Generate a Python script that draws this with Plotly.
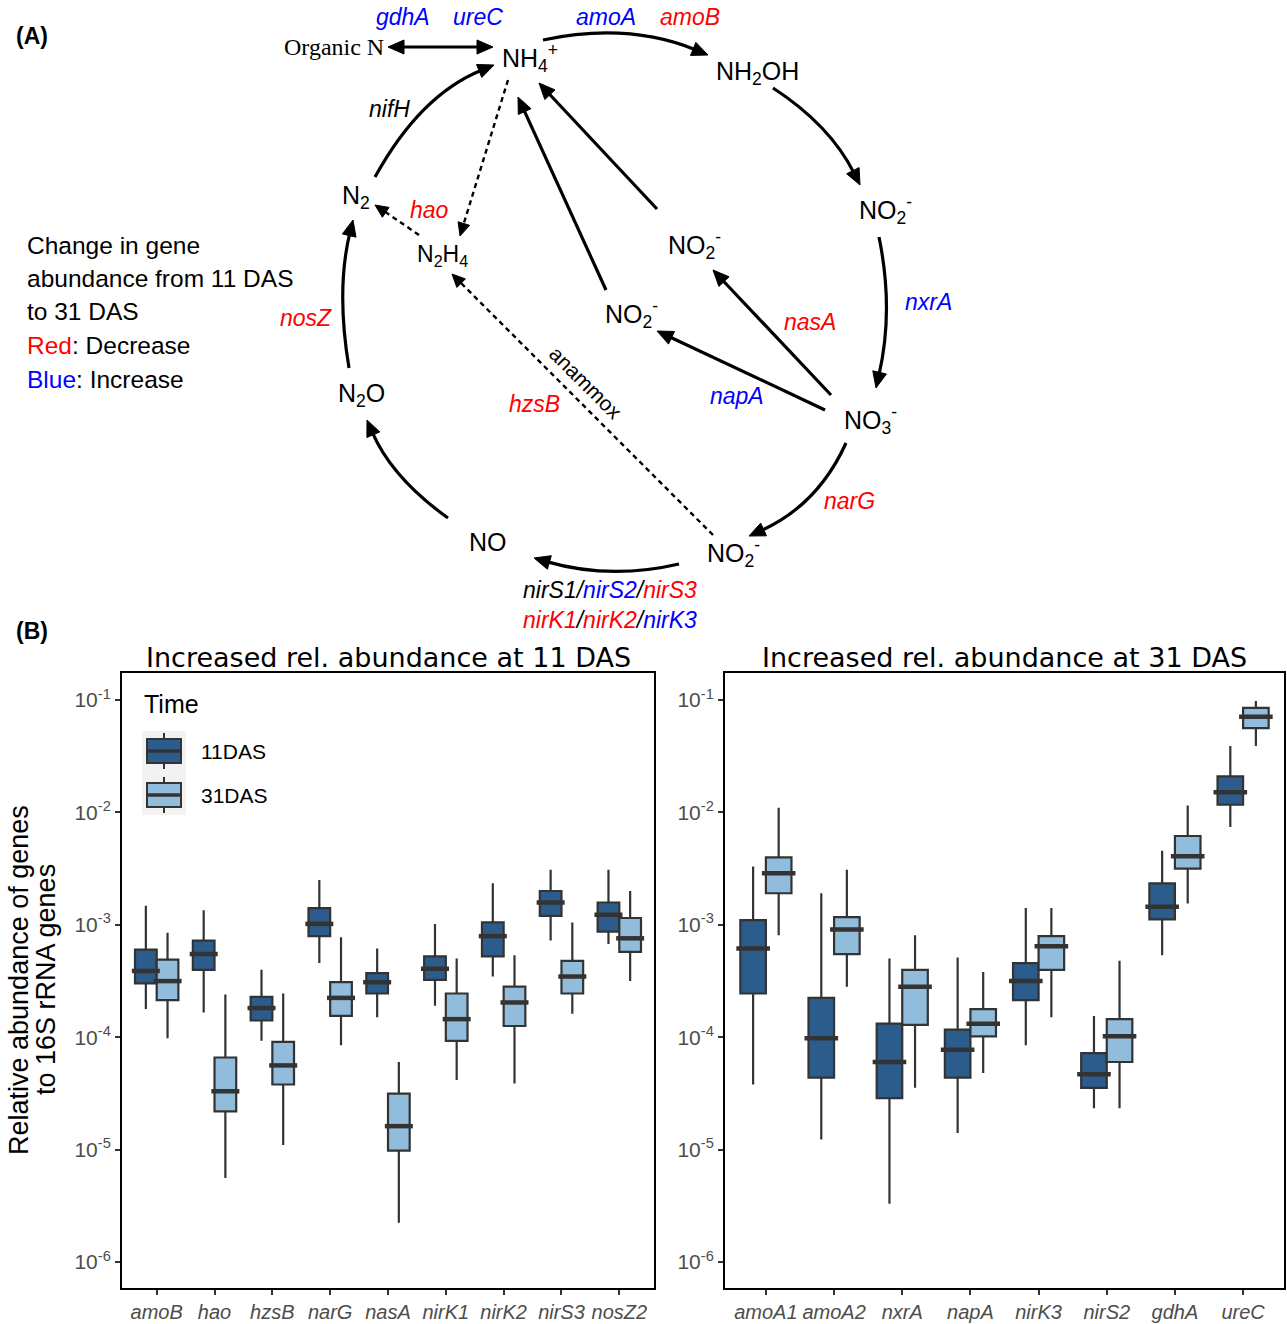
import math
import plotly.graph_objects as go

W, H = 1287, 1324

# ---------------- Panel B data (relative abundance) ----------------
genes_left = ["amoB", "hao", "hzsB", "narG", "nasA", "nirK1", "nirK2", "nirS3", "nosZ2"]
left_11_low = [1.78e-4, 1.66e-4, 9.3e-5, 4.57e-4, 1.51e-4, 1.91e-4, 3.47e-4, 7.24e-4, 6.76e-4]
left_11_q1 = [3.02e-4, 3.98e-4, 1.41e-4, 7.94e-4, 2.45e-4, 3.24e-4, 5.25e-4, 1.20e-3, 8.71e-4]
left_11_med = [3.89e-4, 5.50e-4, 1.82e-4, 1.02e-3, 3.09e-4, 4.07e-4, 7.94e-4, 1.58e-3, 1.23e-3]
left_11_q3 = [6.03e-4, 7.24e-4, 2.29e-4, 1.41e-3, 3.72e-4, 5.25e-4, 1.05e-3, 2.00e-3, 1.58e-3]
left_11_up = [1.48e-3, 1.35e-3, 3.98e-4, 2.51e-3, 6.17e-4, 1.02e-3, 2.34e-3, 3.09e-3, 3.09e-3]

left_31_low = [9.8e-5, 5.6e-6, 1.10e-5, 8.5e-5, 2.24e-6, 4.17e-5, 3.89e-5, 1.62e-4, 3.16e-4]
left_31_q1 = [2.14e-4, 2.19e-5, 3.80e-5, 1.55e-4, 9.8e-6, 9.3e-5, 1.26e-4, 2.45e-4, 5.75e-4]
left_31_med = [3.16e-4, 3.31e-5, 5.62e-5, 2.24e-4, 1.62e-5, 1.45e-4, 2.04e-4, 3.47e-4, 7.59e-4]
left_31_q3 = [4.90e-4, 6.61e-5, 9.12e-5, 3.09e-4, 3.16e-5, 2.45e-4, 2.82e-4, 4.79e-4, 1.15e-3]
left_31_up = [8.51e-4, 2.40e-4, 2.45e-4, 7.76e-4, 6.03e-5, 5.01e-4, 5.37e-4, 1.05e-3, 2.00e-3]

genes_right = ["amoA1", "amoA2", "nxrA", "napA", "nirK3", "nirS2", "gdhA", "ureC"]
right_11_low = [3.8e-5, 1.23e-5, 3.3e-6, 1.41e-5, 8.5e-5, 2.34e-5, 5.37e-4, 7.4e-3]
right_11_q1 = [2.45e-4, 4.37e-5, 2.88e-5, 4.37e-5, 2.14e-4, 3.55e-5, 1.12e-3, 1.17e-2]
right_11_med = [6.17e-4, 9.8e-5, 6.03e-5, 7.76e-5, 3.16e-4, 4.68e-5, 1.45e-3, 1.51e-2]
right_11_q3 = [1.10e-3, 2.24e-4, 1.32e-4, 1.17e-4, 4.57e-4, 7.24e-5, 2.34e-3, 2.09e-2]
right_11_up = [3.31e-3, 1.91e-3, 5.01e-4, 5.13e-4, 1.41e-3, 1.55e-4, 4.57e-3, 3.89e-2]

right_31_low = [8.1e-4, 2.82e-4, 3.55e-5, 4.8e-5, 1.51e-4, 2.34e-5, 1.55e-3, 3.89e-2]
right_31_q1 = [1.91e-3, 5.50e-4, 1.29e-4, 1.02e-4, 3.98e-4, 6.03e-5, 3.16e-3, 5.62e-2]
right_31_med = [2.88e-3, 9.1e-4, 2.82e-4, 1.32e-4, 6.46e-4, 1.02e-4, 4.07e-3, 7.08e-2]
right_31_q3 = [3.98e-3, 1.17e-3, 3.98e-4, 1.78e-4, 7.94e-4, 1.45e-4, 6.17e-3, 8.51e-2]
right_31_up = [1.10e-2, 3.09e-3, 8.1e-4, 3.80e-4, 1.41e-3, 4.79e-4, 1.15e-2, 9.8e-2]

time_labels = ["11DAS", "31DAS"]
tick_vals = [1e-1, 1e-2, 1e-3, 1e-4, 1e-5, 1e-6]
tick_text = ["10<sup>-1</sup>", "10<sup>-2</sup>", "10<sup>-3</sup>",
             "10<sup>-4</sup>", "10<sup>-5</sup>", "10<sup>-6</sup>"]

# ---------------- styles ----------------
DARK = "#2C5C8C"
LIGHT = "#92BCDB"
OUTLINE = "#333333"
RED = "#FF0000"
BLUE = "#0000FF"
SANS = "Liberation Sans, Arial, sans-serif"
TITLE_FONT = "DejaVu Sans, sans-serif"
BOX_W = 0.375

fig = go.Figure()


def add_group(genes, low, q1, med, q3, up, color, name, xa, ya, offset, msize):
    xs = [i + offset for i in range(len(genes))]
    fig.add_trace(go.Box(
        x=xs, lowerfence=low, q1=q1, median=med, q3=q3, upperfence=up,
        width=BOX_W, fillcolor=color, line=dict(color=OUTLINE, width=2.2),
        whiskerwidth=0, name=name, xaxis=xa, yaxis=ya, showlegend=False,
        hoverinfo="skip"))
    fig.add_trace(go.Scatter(
        x=xs, y=med, mode="markers", xaxis=xa, yaxis=ya, showlegend=False,
        hoverinfo="skip",
        marker=dict(symbol="line-ew", size=msize, color=OUTLINE,
                    line=dict(color=OUTLINE, width=4.5))))


add_group(genes_left, left_11_low, left_11_q1, left_11_med, left_11_q3, left_11_up,
          DARK, time_labels[0], "x", "y", -BOX_W / 2, 20)
add_group(genes_left, left_31_low, left_31_q1, left_31_med, left_31_q3, left_31_up,
          LIGHT, time_labels[1], "x", "y", BOX_W / 2, 20)
add_group(genes_right, right_11_low, right_11_q1, right_11_med, right_11_q3, right_11_up,
          DARK, time_labels[0], "x2", "y2", -BOX_W / 2, 24)
add_group(genes_right, right_31_low, right_31_q1, right_31_med, right_31_q3, right_31_up,
          LIGHT, time_labels[1], "x2", "y2", BOX_W / 2, 24)

# invisible trace for the full-figure drawing layer
fig.add_trace(go.Scatter(x=[0], y=[0], mode="markers", marker=dict(opacity=0),
                         xaxis="x3", yaxis="y3", showlegend=False, hoverinfo="skip"))

# panel geometry (pixels)
L_X0, L_X1, R_X0, R_X1 = 122, 654, 725, 1284
P_Y0, P_Y1 = 673, 1288
YRANGE = [-6.23, -0.76]


def xdom(a, b):
    return [a / W, b / W]


ydom = [1 - P_Y1 / H, 1 - P_Y0 / H]

axis_common = dict(showline=True, mirror=True, linecolor="black", linewidth=2,
                   showgrid=False, zeroline=False, ticks="outside", ticklen=5,
                   tickwidth=1.5, tickcolor=OUTLINE)

fig.update_layout(
    width=W, height=H, margin=dict(l=0, r=0, t=0, b=0),
    paper_bgcolor="white", plot_bgcolor="rgba(0,0,0,0)", showlegend=False,
    xaxis=dict(domain=xdom(L_X0, L_X1), anchor="y", range=[-0.6, len(genes_left) - 0.4],
               tickvals=list(range(len(genes_left))),
               ticktext=["<i>%s</i>" % g for g in genes_left],
               tickfont=dict(family=SANS, size=20, color="#4D4D4D"), **axis_common),
    yaxis=dict(domain=ydom, anchor="x", type="log", range=YRANGE,
               tickvals=tick_vals, ticktext=tick_text,
               tickfont=dict(family=SANS, size=21, color="#4D4D4D"), **axis_common),
    xaxis2=dict(domain=xdom(R_X0, R_X1), anchor="y2", range=[-0.6, len(genes_right) - 0.4],
                tickvals=list(range(len(genes_right))),
                ticktext=["<i>%s</i>" % g for g in genes_right],
                tickfont=dict(family=SANS, size=20, color="#4D4D4D"), **axis_common),
    yaxis2=dict(domain=ydom, anchor="x2", type="log", range=YRANGE,
                tickvals=tick_vals, ticktext=tick_text,
                tickfont=dict(family=SANS, size=21, color="#4D4D4D"), **axis_common),
    xaxis3=dict(domain=[0, 1], range=[0, W], visible=False, anchor="y3", fixedrange=True),
    yaxis3=dict(domain=[0, 1], range=[H, 0], visible=False, anchor="x3", fixedrange=True),
)

shapes = []
annotations = []


def text(t, x, y, size=22, color="black", family=SANS, xanchor="center", angle=0):
    annotations.append(dict(text=t, x=x, y=y, xref="x3", yref="y3", showarrow=False,
                            xanchor=xanchor, yanchor="middle", textangle=angle,
                            font=dict(family=family, size=size, color=color)))


def head(tip, frm, L=16, Wd=14):
    dx, dy = tip[0] - frm[0], tip[1] - frm[1]
    n = math.hypot(dx, dy)
    ux, uy = dx / n, dy / n
    bx, by = tip[0] - L * ux, tip[1] - L * uy
    px, py = -uy, ux
    p = "M%.1f,%.1f L%.1f,%.1f L%.1f,%.1f Z" % (
        tip[0], tip[1], bx + Wd / 2 * px, by + Wd / 2 * py, bx - Wd / 2 * px, by - Wd / 2 * py)
    shapes.append(dict(type="path", path=p, xref="x3", yref="y3",
                       fillcolor="black", line=dict(color="black", width=1)))
    return (bx + 3 * ux, by + 3 * uy)


def curve(start, ctrl, tip, width=3.2):
    end = head(tip, ctrl)
    p = "M%.1f,%.1f Q%.1f,%.1f %.1f,%.1f" % (start[0], start[1], ctrl[0], ctrl[1], end[0], end[1])
    shapes.append(dict(type="path", path=p, xref="x3", yref="y3",
                       line=dict(color="black", width=width)))


def straight(start, tip, dash=None, width=3.2, both=False, L=16, Wd=14):
    end = head(tip, start, L, Wd)
    s = head(start, tip, L, Wd) if both else start
    p = "M%.1f,%.1f L%.1f,%.1f" % (s[0], s[1], end[0], end[1])
    ln = dict(color="black", width=width)
    if dash:
        ln["dash"] = dash
    shapes.append(dict(type="path", path=p, xref="x3", yref="y3", line=ln))


# ---------------- Panel A: arrows ----------------
straight((388, 47), (493, 47), both=True)                 # Organic N <-> NH4+
curve((543, 40), (628, 22), (708, 55))                      # NH4+ -> NH2OH
curve((773, 88), (830, 125), (860, 185))                    # NH2OH -> NO2-
curve((879, 237), (894, 310), (876, 388))                   # NO2- -> NO3-
curve((846, 443), (818, 505), (749, 536))                   # NO3- -> NO2-
curve((679, 564), (610, 580), (534, 558))                   # NO2- -> NO
curve((448, 518), (392, 478), (367, 420))                   # NO -> N2O
curve((349, 368), (336, 290), (353, 220))                   # N2O -> N2
curve((375, 177), (420, 95), (494, 65))                     # N2 -> NH4+
straight((831, 395), (713, 270))                            # NO3- -> NO2- (nasA)
straight((825, 410), (657, 331))                            # NO3- -> NO2- (napA)
straight((657, 209), (539, 83))                             # NO2- -> NH4+
straight((606, 290), (518, 97))                             # NO2- -> NH4+
straight((508, 80), (460, 236), dash="5px,4px", width=2.4, L=13, Wd=12)   # NH4+ -> N2H4
straight((419, 235), (375, 205), dash="5px,4px", width=2.4, L=13, Wd=12)  # N2H4 -> N2
straight((713, 535), (452, 274), dash="5px,4px", width=2.4, L=13, Wd=12)  # NO2- -> N2H4 (anammox)

# ---------------- Panel A: labels ----------------
NODE = 25
text("<b>(A)</b>", 14, 36, size=23, xanchor="left")
text("<b>(B)</b>", 14, 631, size=23, xanchor="left")
text("Organic N", 334, 47, size=24, family="Liberation Serif, Times New Roman, serif")
text("NH<sub>4</sub><sup>+</sup>", 530, 58, size=NODE)
text("NH<sub>2</sub>OH", 757, 73, size=NODE)
text("NO<sub>2</sub><sup>-</sup>", 885, 210, size=NODE)
text("NO<sub>2</sub><sup>-</sup>", 694, 245, size=NODE)
text("NO<sub>2</sub><sup>-</sup>", 631, 314, size=NODE)
text("NO<sub>3</sub><sup>-</sup>", 870, 420, size=NODE)
text("NO<sub>2</sub><sup>-</sup>", 733, 553, size=NODE)
text("NO", 488, 542, size=NODE)
text("N<sub>2</sub>O", 361, 395, size=NODE)
text("N<sub>2</sub>", 356, 197, size=NODE)
text("N<sub>2</sub>H<sub>4</sub>", 442, 255, size=23)

gi = lambda g: "<i>%s</i>" % g
text(gi("gdhA"), 403, 17, size=23, color=BLUE)
text(gi("ureC"), 478, 17, size=23, color=BLUE)
text(gi("amoA"), 606, 17, size=23, color=BLUE)
text(gi("amoB"), 690, 17, size=23, color=RED)
text(gi("nifH"), 389, 109, size=23)
text(gi("hao"), 429, 210, size=23, color=RED)
text(gi("nosZ"), 306, 318, size=23, color=RED)
text(gi("hzsB"), 534, 404, size=23, color=RED)
text("anammox", 586, 382, size=21, angle=45)
text(gi("napA"), 737, 396, size=23, color=BLUE)
text(gi("nasA"), 810, 322, size=23, color=RED)
text(gi("nxrA"), 928, 302, size=23, color=BLUE)
text(gi("narG"), 849, 501, size=23, color=RED)
text("<i>nirS1/<span style='color:%s'>nirS2</span>/<span style='color:%s'>nirS3</span></i>"
     % (BLUE, RED), 610, 590, size=23)
text("<i><span style='color:%s'>nirK1</span>/<span style='color:%s'>nirK2</span>/"
     "<span style='color:%s'>nirK3</span></i>" % (RED, RED, BLUE), 610, 620, size=23)

text("Change in gene", 25, 245, size=24.5, xanchor="left")
text("abundance from 11 DAS", 25, 278, size=24.5, xanchor="left")
text("to 31 DAS", 25, 311, size=24.5, xanchor="left")
text("<span style='color:%s'>Red</span>: Decrease" % RED, 25, 345, size=24.5, xanchor="left")
text("<span style='color:%s'>Blue</span>: Increase" % BLUE, 25, 379, size=24.5, xanchor="left")

# ---------------- Panel B: titles, axis title, legend ----------------
text("Increased rel. abundance at 11 DAS", (L_X0 + L_X1) / 2, 657, size=27, family=TITLE_FONT)
text("Increased rel. abundance at 31 DAS", (R_X0 + R_X1) / 2, 657, size=27, family=TITLE_FONT)
text("Relative abundance of genes", 19, 980, size=27, angle=-90)
text("to 16S rRNA genes", 46, 980, size=27, angle=-90)

# legend (ggplot style keys)
text("Time", 142, 704, size=25, xanchor="left")
shapes.append(dict(type="rect", x0=142, x1=186, y0=731, y1=815, xref="x3", yref="y3",
                   fillcolor="#F2F2F2", line=dict(width=0), layer="below"))
for lab, col, yc in [(time_labels[0], DARK, 751), (time_labels[1], LIGHT, 795)]:
    shapes.append(dict(type="line", x0=164, x1=164, y0=yc - 18, y1=yc + 18, xref="x3", yref="y3",
                       line=dict(color=OUTLINE, width=2)))
    shapes.append(dict(type="rect", x0=147, x1=181, y0=yc - 12, y1=yc + 12, xref="x3", yref="y3",
                       fillcolor=col, line=dict(color=OUTLINE, width=2)))
    shapes.append(dict(type="line", x0=147, x1=181, y0=yc, y1=yc, xref="x3", yref="y3",
                       line=dict(color=OUTLINE, width=3.5)))
    text(lab, 199, yc, size=21, xanchor="left")

fig.update_layout(shapes=shapes, annotations=annotations)
fig.write_html("out.html", config={"displayModeBar": False},
               post_script="document.body.style.margin='0';document.body.style.overflow='hidden';")
